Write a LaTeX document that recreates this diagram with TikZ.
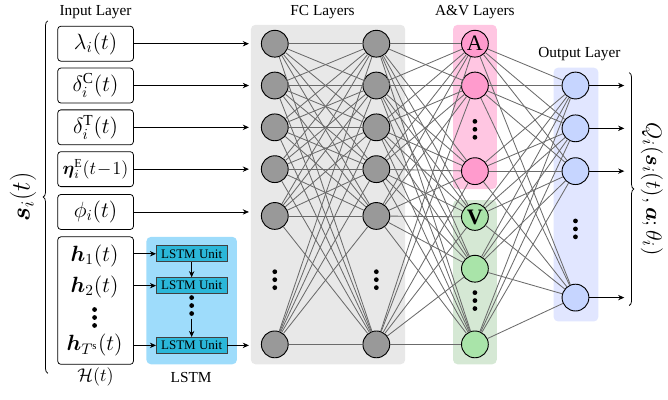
\documentclass[tikz,border=0pt]{standalone}
\usepackage{amsmath, amssymb}
\usepackage{fontspec}
\setmainfont{Liberation Serif}
\usetikzlibrary{arrows.meta, decorations.pathreplacing}

\definecolor{fcback}{HTML}{E8E8E8}
\definecolor{fcfill}{HTML}{999999}
\definecolor{aback}{HTML}{FFC6E2}
\definecolor{afill}{HTML}{FF9BCD}
\definecolor{vback}{HTML}{D5E8D4}
\definecolor{vfill}{HTML}{A9E4A9}
\definecolor{oback}{HTML}{E1E6FF}
\definecolor{ofill}{HTML}{C6D5FF}
\definecolor{lstmback}{HTML}{9EDCFB}
\definecolor{lstmfill}{HTML}{2BB7D9}

\begin{document}
\begin{tikzpicture}[
    x=0.65pt, y=-0.65pt,
    every node/.style={font=\normalsize},
    neuron/.style={circle, draw, line width=0.6pt, minimum size=17.5pt, inner sep=0pt},
    fcnode/.style={neuron, fill=fcfill},
    anode/.style={neuron, fill=afill},
    vnode/.style={neuron, fill=vfill},
    outnode/.style={neuron, fill=ofill},
    inbox/.style={rectangle, draw, rounded corners=2pt, line width=0.5pt,
      minimum width=49.4pt, minimum height=22.8pt, inner sep=0pt, font=\Large},
    lstmunit/.style={rectangle, draw=black!75, fill=lstmfill, line width=0.5pt,
      minimum width=46pt, minimum height=10.4pt, inner sep=0pt,
      font=\fontsize{8.5}{9}\selectfont},
    layer/.style={rounded corners=3pt},
    edge/.style={draw=black!58, line width=0.55pt},
    arr/.style={-{Stealth[length=4pt, width=3.5pt]}, line width=0.5pt},
    vdots/.pic={\foreach \d in {-8,0,8} \fill (0,\d) circle (2.4);}
  ]
  % layer backgrounds
  \fill[layer, fcback] (252,23) rectangle (407,364);
  \fill[layer, aback] (455,23) rectangle (499,188);
  \fill[layer, vback] (455,199) rectangle (499,364);
  \fill[layer, oback] (556,66) rectangle (601,321);
  \fill[layer, lstmback] (147,236) rectangle (238,364);

  % titles
  \node (tin) at (96,10) {Input Layer};
  \node (tfc) at (324,10) {FC Layers};
  \node (tav) at (477,10) {A\&V Layers};
  \node (tout) at (582,52) {Output Layer};
  \node (tlstm) at (192,377) {LSTM};
  \node (thist) at (96,377) {\large $\mathcal{H}(t)$};

  % input layer
  \node[inbox] (in1) at (96,42) {$\lambda_i(t)$};
  \node[inbox] (in2) at (96,84) {$\delta_i^{\mathrm{C}}(t)$};
  \node[inbox] (in3) at (96,126) {$\delta_i^{\mathrm{T}}(t)$};
  \node[inbox, font=\large] (in4) at (96,168) {$\boldsymbol{\eta}_i^{\mathrm{E}}(t\!-\!1)$};
  \node[inbox] (in5) at (96,211) {$\phi_i(t)$};
  \node[inbox, minimum height=83.2pt] (hbox) at (96,300) {};
  \node[font=\Large] (h1) at (95,255) {$\boldsymbol{h}_1(t)$};
  \node[font=\Large] (h2) at (95,286) {$\boldsymbol{h}_2(t)$};
  \pic at (95,317) {vdots};
  \node[font=\Large] (h3) at (95,345) {$\boldsymbol{h}_{T^{\mathrm{s}}}(t)$};

  % LSTM
  \node[lstmunit] (u1) at (192.5,253) {LSTM Unit};
  \node[lstmunit] (u2) at (192.5,285) {LSTM Unit};
  \node[lstmunit] (u3) at (192.5,345) {LSTM Unit};
  \pic at (192.5,305) {vdots};
  \coordinate (ldots) at (192.5,318);
  \draw[arr] (u1) -- (u2);
  \draw[arr] (ldots) -- (u3);
  \foreach \i in {1,2,3}
    \draw[arr] (u\i.west -| hbox.east) -- (u\i.west);

  % FC layers
  \foreach \y [count=\i] in {42,84,126,168,215,344} {
    \node[fcnode] (f\i) at (276,\y) {};
    \node[fcnode] (g\i) at (378,\y) {};
  }
  \pic at (276,279) {vdots};
  \pic at (378,279) {vdots};

  % A&V layers
  \node[anode, font=\Large] (a1) at (477,42) {A};
  \node[anode] (a2) at (477,84) {};
  \node[anode] (a3) at (477,170) {};
  \pic at (477,128) {vdots};
  \node[vnode, font=\Large] (a4) at (477,216) {\textbf{V}};
  \node[vnode] (a5) at (477,268) {};
  \node[vnode] (a6) at (477,344) {};
  \pic at (477,300) {vdots};

  % output layer
  \node[outnode] (o1) at (578,84) {};
  \node[outnode] (o2) at (578,127) {};
  \node[outnode] (o3) at (578,170) {};
  \node[outnode] (o4) at (578,297) {};
  \pic at (578,228) {vdots};

  % connections
  \foreach \i in {1,...,6}
    \foreach \j in {1,...,6} {
      \draw[edge] (f\i) -- (g\j);
      \draw[edge] (g\i) -- (a\j);
    }
  \foreach \i in {1,...,6}
    \foreach \j in {1,...,4}
      \draw[edge] (a\i) -- (o\j);

  % inputs and outputs
  \coordinate (fcleft) at (250,0);
  \coordinate (qend) at (627,0);
  \foreach \i in {1,...,5}
    \draw[arr] (in\i.east) -- (in\i.east -| fcleft);
  \draw[arr] (u3.east) -- (u3.east -| fcleft);
  \foreach \i in {1,...,4}
    \draw[arr] (o\i.east) -- (o\i.east -| qend);

  % braces
  \draw[decorate, decoration={brace, amplitude=3pt}, line width=0.5pt]
    (48,373) -- (48,19) node[midway, left=4pt, rotate=90, anchor=south, font=\LARGE] (sstate) {$\boldsymbol{s}_i(t)$};
  \draw[decorate, decoration={brace, amplitude=3pt}, line width=0.5pt]
    (632,71) -- (632,305) node[midway, right=4pt, rotate=-90, anchor=south, font=\fontsize{15.5}{18}\selectfont] (qval) {$Q_i(\boldsymbol{s}_i(t),\boldsymbol{a};\theta_i)$};

  \useasboundingbox (0,0) rectangle (668,399);
\end{tikzpicture}
\end{document}
